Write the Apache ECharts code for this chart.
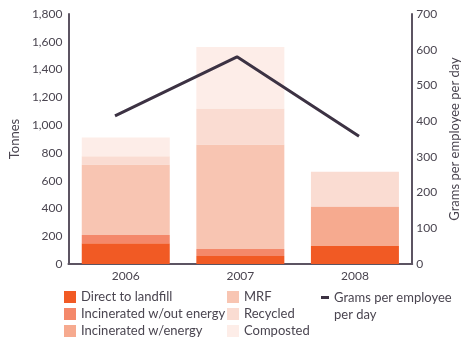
<!DOCTYPE html>
<html>
<head>
<meta charset="utf-8">
<script src="https://cdn.jsdelivr.net/npm/echarts@6/dist/echarts.min.js"></script>
<style>
  html, body { margin: 0; padding: 0; background: #fff; }
  #chart { width: 469px; height: 340px; }
</style>
</head>
<body>
<div id="chart"></div>
<script>
// Waste by disposal route (tonnes) and grams per employee per day
const years = ['2006', '2007', '2008'];
const directToLandfill = [150, 57, 129];
const incineratedNoEnergy = [58, 51, 0];
const incineratedEnergy = [0, 0, 285];
const mrf = [509, 753, 0];
const recycled = [58, 258, 251];
const composted = [136, 443, 0];
const gramsPerEmployee = [415, 580, 358];

const tonnesTicks = { min: 0, max: 1800, interval: 200 };
const gramsTicks = { min: 0, max: 700, interval: 100 };

const font = 'Lato, "Noto Sans", sans-serif';
const textColor = '#4a4550';
const axisColor = '#5c5462';

const stackNames = ['Direct to landfill', 'Incinerated w/out energy', 'Incinerated w/energy', 'MRF', 'Recycled', 'Composted'];
const stackData = [directToLandfill, incineratedNoEnergy, incineratedEnergy, mrf, recycled, composted];
const stackColors = ['#f15a24', '#f4886a', '#f6aa8f', '#f8c5b2', '#fadcd2', '#fdede8'];

const barSeries = stackNames.map((name, i) => ({
  name,
  type: 'bar',
  stack: 'waste',
  xAxisIndex: 0,
  yAxisIndex: 0,
  barWidth: 88,
  itemStyle: { color: stackColors[i] },
  data: stackData[i]
}));

const chart = echarts.init(document.getElementById('chart'), null, { renderer: 'canvas' });

const legendText = { fontFamily: font, fontSize: 13, color: textColor, lineHeight: 14 };

chart.setOption({
  animation: false,
  textStyle: { fontFamily: font },
  grid: [
    { left: 66, right: 37, top: 14, bottom: 76 },
    { left: 54, right: 49, top: 14, bottom: 76 }
  ],
  legend: [
    {
      data: stackNames.slice(0, 3), orient: 'vertical', left: 64, top: 290, padding: 0,
      itemWidth: 12, itemHeight: 12, itemGap: 3, icon: 'rect', textStyle: legendText
    },
    {
      data: stackNames.slice(3), orient: 'vertical', left: 227, top: 290, padding: 0,
      itemWidth: 12, itemHeight: 12, itemGap: 3, icon: 'rect', textStyle: legendText
    },
    {
      data: ['Grams per employee per day'], left: 321, top: 272, padding: 0,
      itemWidth: 8, itemHeight: 3, icon: 'rect',
      // leading blank line keeps the marker level with the first text line
      formatter: () => '\nGrams per employee\nper day',
      textStyle: Object.assign({}, legendText, { lineHeight: 17 })
    }
  ],
  xAxis: [
    {
      type: 'category', gridIndex: 0, data: years,
      axisLine: { lineStyle: { color: axisColor, width: 2 } },
      axisTick: { show: false },
      axisLabel: { color: textColor, fontSize: 12, margin: 6 }
    },
    {
      type: 'category', gridIndex: 1, data: years, show: false
    }
  ],
  yAxis: [
    {
      type: 'value', gridIndex: 0, position: 'left',
      min: tonnesTicks.min, max: tonnesTicks.max, interval: tonnesTicks.interval,
      name: 'Tonnes', nameLocation: 'middle', nameGap: 40,
      nameTextStyle: { color: textColor, fontSize: 13 },
      axisLine: { show: true, lineStyle: { color: axisColor, width: 2 } },
      axisTick: { show: false },
      splitLine: { show: false },
      axisLabel: { color: textColor, fontSize: 12, margin: 6 }
    },
    {
      type: 'value', gridIndex: 0, position: 'right',
      min: gramsTicks.min, max: gramsTicks.max, interval: gramsTicks.interval,
      name: 'Grams per employee per day', nameLocation: 'middle', nameGap: 22,
      nameRotate: 90,
      nameTextStyle: { color: textColor, fontSize: 13 },
      axisLine: { show: true, lineStyle: { color: axisColor, width: 2 } },
      axisTick: { show: false },
      splitLine: { show: false },
      axisLabel: { color: textColor, fontSize: 12, margin: 4 }
    },
    {
      type: 'value', gridIndex: 1, show: false,
      min: gramsTicks.min, max: gramsTicks.max
    }
  ],
  series: barSeries.concat([{
    name: 'Grams per employee per day',
    type: 'line',
    xAxisIndex: 1,
    yAxisIndex: 2,
    symbol: 'none',
    itemStyle: { color: '#3c3243' },
    lineStyle: { color: '#3c3243', width: 3 },
    data: gramsPerEmployee
  }])
});
</script>
</body>
</html>
